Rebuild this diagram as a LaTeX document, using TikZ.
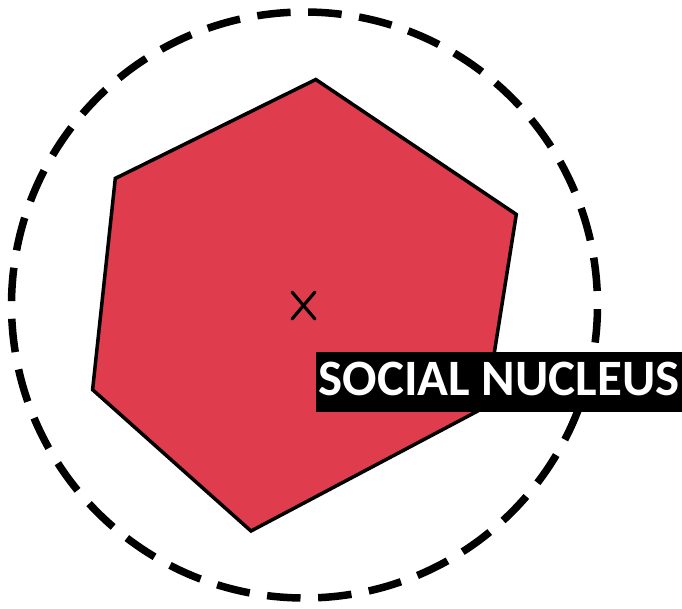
\documentclass[tikz,border=0pt]{standalone}
\usepackage{fontspec}
\newfontfamily\labelfont{Carlito}
\definecolor{nucleusred}{RGB}{223,60,78}
\tikzset{
  hexshape/.style={fill=nucleusred, draw=black, line width=3.5pt, line join=miter},
  ringline/.style={draw=black, line width=7.5pt, dash pattern=on 33.5pt off 17.63pt, dash phase=47pt},
  crossline/.style={draw=black, line width=3.2pt, line cap=round},
  labelbox/.style={fill=black, draw=none, inner sep=0pt, minimum width=366pt, minimum height=60pt, anchor=north west},
  labeltext/.style={text=white, inner sep=0pt, anchor=base, font=\labelfont\bfseries\fontsize{51}{60}\selectfont}
}
\begin{document}
\begin{tikzpicture}[x=1pt,y=-1pt]
\useasboundingbox (0,0) rectangle (682,608);
\coordinate (ringc) at (304.5,305);
\draw[ringline] (ringc) circle [radius=293];
\draw[hexshape] (315.8,79.5) coordinate (h1) -- (516.3,214.4) coordinate (h2) -- (485.7,406.8) coordinate (h3) -- (251,531) coordinate (h4) -- (92.6,389.7) coordinate (h5) -- (115.3,178.4) coordinate (h6) -- cycle;
\coordinate (xc) at (303.5,305.5);
\draw[crossline] ([shift={(-11.5,-13.5)}]xc) -- ([shift={(11.5,13.5)}]xc);
\draw[crossline] ([shift={(11.5,-13.5)}]xc) -- ([shift={(-11.5,13.5)}]xc);
\node[labelbox] (box) at (316,352) {};
\node[labeltext] (lbl) at (499,395) {SOCIAL NUCLEUS};
\end{tikzpicture}
\end{document}
